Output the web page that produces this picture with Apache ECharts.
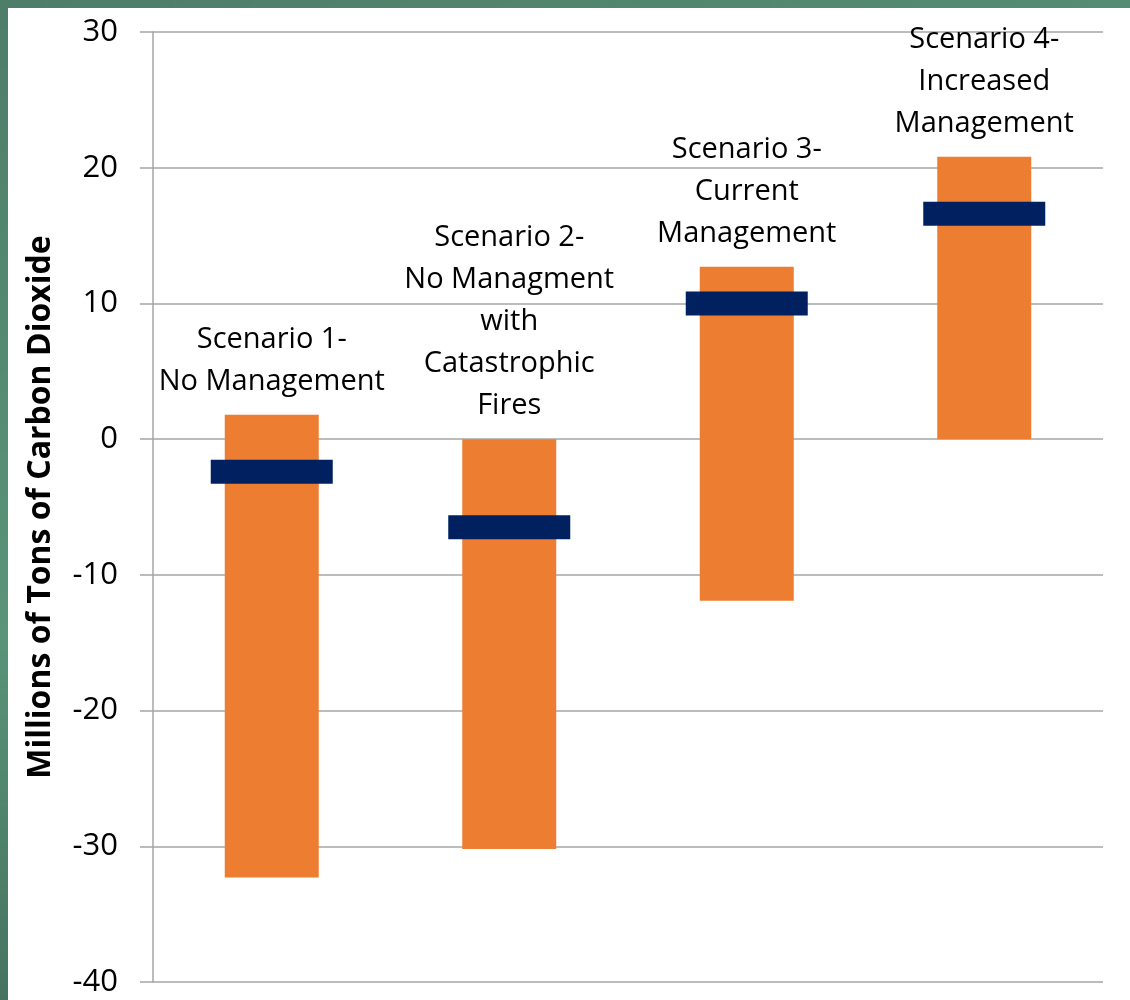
<!DOCTYPE html>
<html>
<head>
<meta charset="utf-8">
<script src="https://cdn.jsdelivr.net/npm/echarts@6/dist/echarts.min.js"></script>
<style>
  html, body { margin: 0; padding: 0; }
  body {
    width: 1130px; height: 1000px; position: relative; overflow: hidden;
    background: linear-gradient(160deg, #4e7d69 0%, #5a9479 45%, #2f4e43 100%);
  }
  #main {
    position: absolute; left: 8px; top: 8px; width: 1122px; height: 992px;
    background: #fff;
  }
</style>
</head>
<body>
<div id="main"></div>
<script>
// 情景名称（标签文字）
var scenarios = [
  'Scenario 1-\nNo Management',
  'Scenario 2-\nNo Managment\nwith\nCatastrophic\nFires',
  'Scenario 3-\nCurrent\nManagement',
  'Scenario 4-\nIncreased\nManagement'
];
// 范围下限 / 上限
var lows = [-32.3, -30.2, -11.9, 0];
var highs = [1.8, 0, 12.7, 20.8];
// 平均值（深蓝色横条）
var means = [-2.4, -6.5, 10, 16.6];
var yTicks = [-40, -30, -20, -10, 0, 10, 20, 30];

var spans = highs.map(function (h, i) { return +(h - lows[i]).toFixed(2); });

var myChart = echarts.init(document.getElementById('main'));
var gridColor = '#a6a6a6';

myChart.setOption({
  animation: false,
  textStyle: { fontFamily: '"Open Sans", sans-serif' },
  grid: { left: 145, right: 27, top: 24, bottom: 18, outerBoundsMode: 'none' },
  xAxis: {
    type: 'category',
    data: scenarios,
    axisLine: { show: false },
    axisTick: { show: false },
    axisLabel: { show: false }
  },
  yAxis: {
    type: 'value',
    min: yTicks[0],
    max: yTicks[yTicks.length - 1],
    interval: 10,
    name: 'Millions of Tons of Carbon Dioxide',
    nameLocation: 'middle',
    nameRotate: 90,
    nameGap: 96,
    nameTextStyle: { fontSize: 32, fontWeight: 'bold', color: '#000' },
    axisLine: { show: true, lineStyle: { color: gridColor, width: 1.5 } },
    axisTick: { show: true, length: 13, lineStyle: { color: gridColor, width: 1.5 } },
    axisLabel: { fontSize: 31, color: '#000', margin: 35 },
    splitLine: { lineStyle: { color: gridColor, width: 1.5 } }
  },
  series: [
    {
      name: 'base',
      type: 'bar',
      stack: 'range',
      stackStrategy: 'all',
      barWidth: 94,
      itemStyle: { color: 'transparent' },
      silent: true,
      data: lows
    },
    {
      name: 'range',
      type: 'bar',
      stack: 'range',
      stackStrategy: 'all',
      barWidth: 94,
      itemStyle: { color: '#ED7D31' },
      label: {
        show: true,
        position: 'top',
        distance: 12,
        fontSize: 29,
        lineHeight: 42,
        color: '#000',
        align: 'center',
        formatter: function (p) { return scenarios[p.dataIndex]; }
      },
      data: spans
    },
    {
      name: 'mean',
      type: 'scatter',
      symbol: 'rect',
      symbolSize: [122, 24],
      itemStyle: { color: '#002060', opacity: 1 },
      z: 5,
      data: means
    }
  ]
});
</script>
</body>
</html>
